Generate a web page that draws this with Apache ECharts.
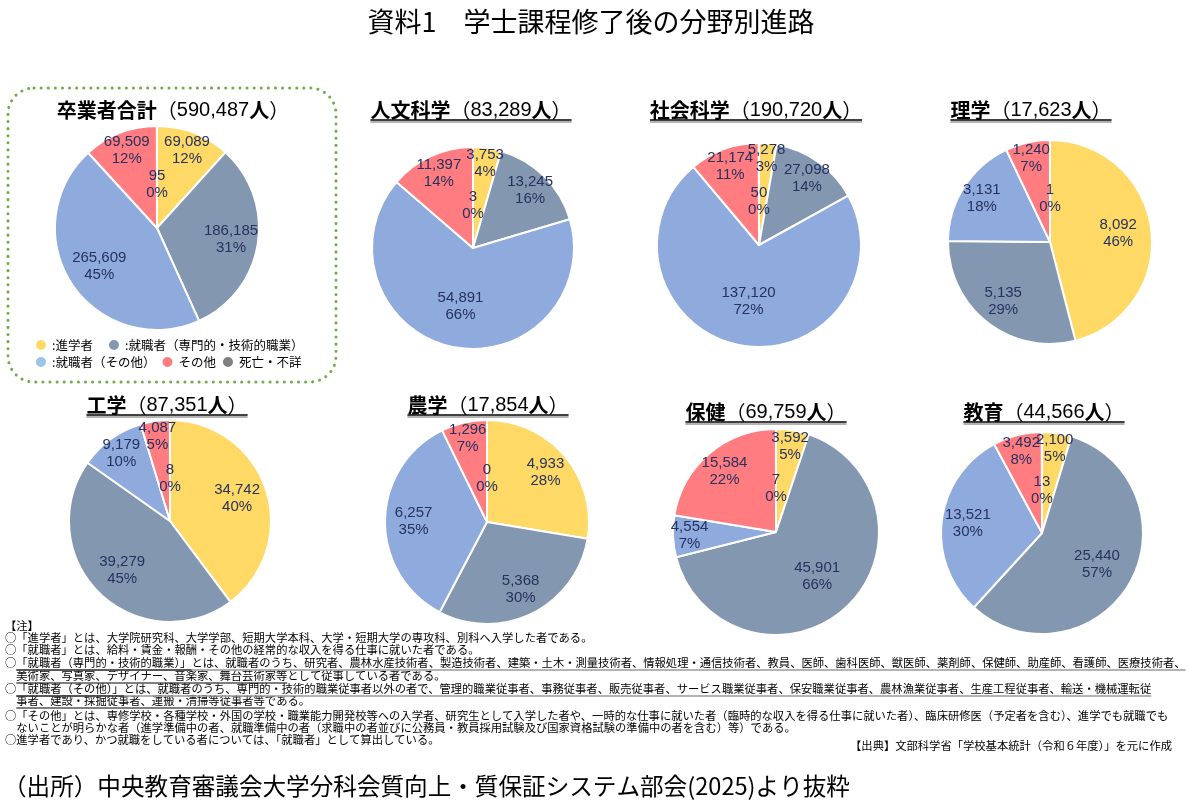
<!DOCTYPE html>
<html lang="ja">
<head>
<meta charset="utf-8">
<title>学士課程修了後の分野別進路</title>
<script src="https://cdn.jsdelivr.net/npm/echarts@6/dist/echarts.min.js"></script>
<style>
  html, body { margin: 0; padding: 0; background: #fff; }
  #main { width: 1189px; height: 803px; }
</style>
</head>
<body>
<div id="main"></div>
<script>
// slice order, clockwise from 12 o'clock
var categories = ['進学者', '就職者（専門的・技術的職業）', '就職者（その他）', 'その他', '死亡・不詳'];
var fields = ['卒業者合計', '人文科学', '社会科学', '理学', '工学', '農学', '保健', '教育'];
var totals = [590487, 83289, 190720, 17623, 87351, 17854, 69759, 44566];
var shingaku = [69089, 3753, 5278, 8092, 34742, 4933, 3592, 2100];
var senmon = [186185, 13245, 27098, 5135, 39279, 5368, 45901, 25440];
var shushokuOther = [265609, 54891, 137120, 3131, 9179, 6257, 4554, 13521];
var sonota = [69509, 11397, 21174, 1240, 4087, 1296, 15584, 3492];
var shibou = [95, 3, 50, 1, 8, 0, 7, 13];

var notes = [
  '【注】',
  '○「進学者」とは、大学院研究科、大学学部、短期大学本科、大学・短期大学の専攻科、別科へ入学した者である。',
  '○「就職者」とは、給料・賃金・報酬・その他の経常的な収入を得る仕事に就いた者である。',
  '○「就職者（専門的・技術的職業）」とは、就職者のうち、研究者、農林水産技術者、製造技術者、建築・土木・測量技術者、情報処理・通信技術者、教員、医師、歯科医師、獣医師、薬剤師、保健師、助産師、看護師、医療技術者、',
  '　美術家、写真家、デザイナー、音楽家、舞台芸術家等として従事している者である。',
  '○「就職者（その他）」とは、就職者のうち、専門的・技術的職業従事者以外の者で、管理的職業従事者、事務従事者、販売従事者、サービス職業従事者、保安職業従事者、農林漁業従事者、生産工程従事者、輸送・機械運転従',
  '　事者、建設・採掘従事者、運搬・清掃等従事者等である。',
  '○「その他」とは、専修学校・各種学校・外国の学校・職業能力開発校等への入学者、研究生として入学した者や、一時的な仕事に就いた者（臨時的な収入を得る仕事に就いた者）、臨床研修医（予定者を含む）、進学でも就職でも',
  '　ないことが明らかな者（進学準備中の者、就職準備中の者（求職中の者並びに公務員・教員採用試験及び国家資格試験の準備中の者を含む）等）である。',
  '○進学者であり、かつ就職をしている者については、「就職者」として算出している。'
];

var colors = ['#FFD966', '#8497B0', '#8FAADC', '#FF7C80', '#7F7F7F'];
var labelColor = '#26325F';
var CJK = '"Noto Sans CJK JP"';
var NUM = '"Liberation Sans", Arial';

// layout
var centers = [[157, 228], [473, 248], [759, 245], [1050, 242], [170, 521], [487, 522], [776, 532], [1042, 533]];
var radii = [102, 101, 102, 102, 101, 102, 103, 101];
var titlePos = [[173, 110], [471, 110], [756, 110], [1031, 110], [167, 405], [488, 405], [766, 412], [1044, 412]];
var noteY = [626, 638, 650, 663, 676, 689, 701, 716, 728, 740];

var ctx = document.createElement('canvas').getContext('2d');
function textW(str, size, family, weight) {
  ctx.font = (weight || 'normal') + ' ' + size + 'px ' + family;
  return ctx.measureText(str).width;
}
function fmt(n) {
  return String(n).replace(/\B(?=(\d{3})+(?!\d))/g, ',');
}

var myChart = echarts.init(document.getElementById('main'));

var series = fields.map(function (f, i) {
  var vals = [shingaku[i], senmon[i], shushokuOther[i], sonota[i], shibou[i]];
  return {
    name: f,
    type: 'pie',
    center: centers[i],
    radius: radii[i],
    startAngle: 90,
    clockwise: true,
    percentPrecision: 0,
    avoidLabelOverlap: false,
    itemStyle: { borderColor: '#fff', borderWidth: 2 },
    label: {
      position: 'inside',
      color: labelColor,
      fontFamily: NUM,
      fontSize: 15,
      lineHeight: 17,
      formatter: function (p) {
        return fmt(p.value) + '\n' + p.percent + '%';
      }
    },
    labelLine: { show: false },
    emphasis: { scale: false },
    labelLayout: function (p) {
      var s = p.seriesIndex, c = centers[s];
      var v = [shingaku[s], senmon[s], shushokuOther[s], sonota[s], shibou[s]];
      var sum = v.reduce(function (a, b) { return a + b; }, 0);
      var frac = v[p.dataIndex] / sum;
      // small slices sit near the rim, large ones nearer the middle
      var k = p.dataIndex === 4 ? 0.4 : 0.82 - 0.4 * frac;
      var lx = p.labelRect.x + p.labelRect.width / 2;
      var ly = p.labelRect.y + p.labelRect.height / 2;
      var m = 2 * k - 1;
      return { dx: m * (lx - c[0]), dy: m * (ly - c[1]) };
    },
    data: categories.map(function (name, j) {
      return { name: name, value: vals[j], itemStyle: { color: colors[j] } };
    })
  };
});

var graphics = [];

// main title
graphics.push({
  type: 'text', x: 591, y: 22,
  style: { text: '資料1\u3000学士課程修了後の分野別進路', fill: '#000', fontFamily: CJK, fontSize: 27, align: 'center', verticalAlign: 'middle' }
});

// dotted frame round the total pie
graphics.push({
  type: 'rect',
  shape: { x: 8, y: 88, width: 328, height: 294, r: 26 },
  style: { fill: 'none', stroke: '#70AD47', lineWidth: 3, lineDash: [0.1, 7], lineCap: 'round' }
});

// pie titles
fields.forEach(function (f, i) {
  var num = fmt(totals[i]);
  var fs = 20;
  var w = textW(f + '人', fs, CJK, 'bold') + 2 * textW('（', fs, CJK) + textW(num, fs, NUM);
  var p = titlePos[i];
  graphics.push({
    type: 'text', x: p[0], y: p[1],
    style: {
      text: '{b|' + f + '}{p|（}{n|' + num + '}{b|人}{p|）}',
      align: 'center', verticalAlign: 'middle',
      rich: {
        b: { fontFamily: CJK, fontWeight: 'bold', fontSize: fs, fill: '#000' },
        p: { fontFamily: CJK, fontSize: fs, fill: '#000' },
        n: { fontFamily: NUM, fontSize: fs, fill: '#000' }
      }
    }
  });
  if (i > 0) {
    var uy = p[1] + 10;
    graphics.push({
      type: 'line', shape: { x1: p[0] - w / 2, y1: uy + 2, x2: p[0] + w / 2, y2: uy + 2 },
      style: { stroke: '#9a9a9a', lineWidth: 1.5 }
    });
    graphics.push({
      type: 'line', shape: { x1: p[0] - w / 2, y1: uy, x2: p[0] + w / 2, y2: uy },
      style: { stroke: '#000', lineWidth: 1.5 }
    });
  }
});

// notes
var NFS = 11.3;
notes.forEach(function (t, i) {
  graphics.push({
    type: 'text', x: 5, y: noteY[i],
    style: { text: t, fill: '#000', fontFamily: CJK, fontSize: NFS, verticalAlign: 'middle' }
  });
});

function underline(line, from, to, color) {
  var t = notes[line];
  var x1 = 5 + textW(t.slice(0, from), NFS, CJK);
  var x2 = 5 + textW(t.slice(0, to), NFS, CJK);
  graphics.push({
    type: 'line', shape: { x1: x1, y1: noteY[line] + 7, x2: x2, y2: noteY[line] + 7 },
    style: { stroke: color, lineWidth: color === '#000' ? 1 : 1.6 }
  });
}
var n3 = notes[3], n5 = notes[5];
underline(3, 1, n3.length, '#9a9a9a');
underline(3, 1, n3.indexOf('」') + 1, '#000');
underline(4, 1, notes[4].indexOf('として'), '#000');
underline(5, 1, n5.length, '#9a9a9a');
underline(5, 1, n5.indexOf('」') + 1, '#000');
underline(6, 1, notes[6].indexOf('である'), '#000');

graphics.push({
  type: 'text', x: 1172, y: 746,
  style: { text: '【出典】文部科学省「学校基本統計（令和６年度）」を元に作成', fill: '#000', fontFamily: CJK, fontSize: NFS, align: 'right', verticalAlign: 'middle' }
});

// source
graphics.push({
  type: 'text', x: 3, y: 786,
  style: { text: '（出所）中央教育審議会大学分科会質向上・質保証システム部会(2025)より抜粋', fill: '#000', fontFamily: CJK, fontSize: 23.6, verticalAlign: 'middle' }
});

var legendText = { fontFamily: CJK, fontSize: 12.5, color: '#000' };
function legendFmt(name) {
  return (name === 'その他' || name === '死亡・不詳') ? name : ':' + name;
}

var option = {
  animation: false,
  color: colors,
  legend: [
    {
      left: 34, top: 338, icon: 'circle', itemWidth: 12, itemHeight: 12, itemGap: 14,
      selectedMode: false, padding: 0, textStyle: legendText, formatter: legendFmt,
      data: [categories[0], categories[1]]
    },
    {
      left: 34, top: 355, icon: 'circle', itemWidth: 12, itemHeight: 12, itemGap: 5,
      selectedMode: false, padding: 0, textStyle: legendText, formatter: legendFmt,
      data: [
        { name: categories[2], itemStyle: { color: '#9DC3E6' } },
        categories[3],
        categories[4]
      ]
    }
  ],
  graphic: graphics,
  series: series
};

option && myChart.setOption(option);
</script>
</body>
</html>
